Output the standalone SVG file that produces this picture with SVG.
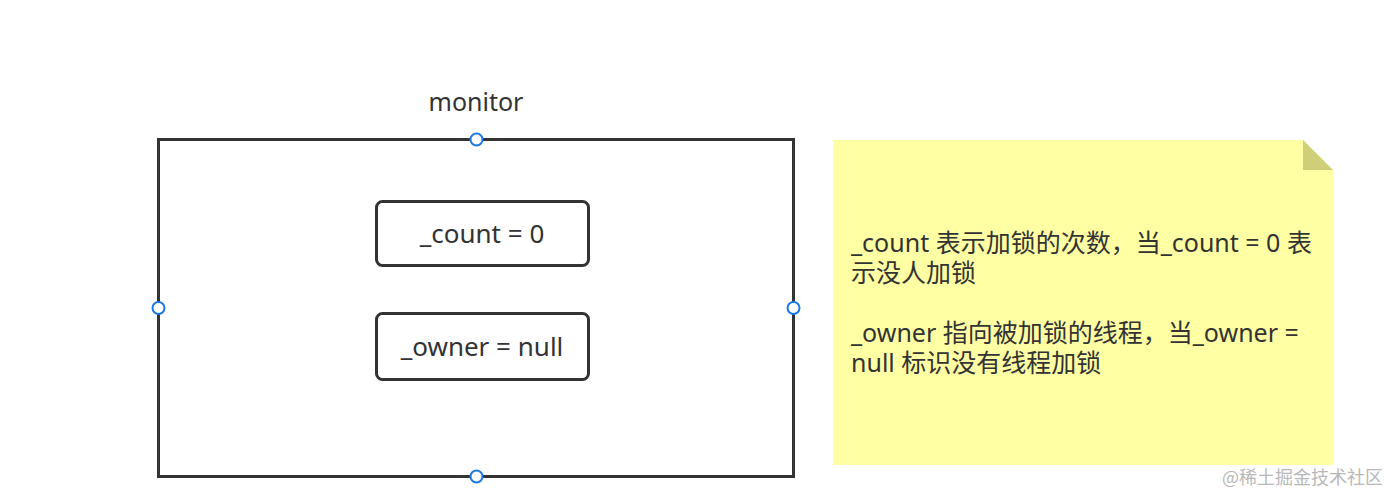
<svg xmlns="http://www.w3.org/2000/svg" width="1389" height="493" viewBox="0 0 1389 493">
<style>
.t{font-family:"Noto Sans","Noto Sans CJK SC",sans-serif;fill:#333;font-size:25px}
.box{fill:#fff;stroke:#333;stroke-width:3}
.pt{fill:#fff;stroke:#1a7ae6;stroke-width:2}
.wm{font-family:"Noto Sans CJK SC",sans-serif;fill:#b8b8b8;font-size:18px}
</style>
<rect width="1389" height="493" fill="#fff"/>
<g id="monitor">
<text class="t" x="476" y="111" text-anchor="middle">monitor</text>
<rect class="box" x="158.5" y="139.5" width="635" height="337"/>
</g>
<g id="count">
<rect class="box" x="376.5" y="201.5" width="212" height="64" rx="6"/>
<text class="t" x="482" y="243" text-anchor="middle" style="font-size:26px">_count = 0</text>
</g>
<g id="owner">
<rect class="box" x="376.5" y="313.5" width="212" height="66" rx="6"/>
<text class="t" x="482" y="356" text-anchor="middle" style="font-size:26px">_owner = null</text>
</g>
<g id="connectors">
<circle class="pt" cx="476.5" cy="139.5" r="6"/>
<circle class="pt" cx="158.5" cy="308" r="6"/>
<circle class="pt" cx="793.5" cy="308" r="6"/>
<circle class="pt" cx="476.5" cy="476.5" r="6"/>
</g>
<g id="note">
<path d="M833 140 H1303 L1333 170 V465 H833 Z" fill="#ffffa3"/>
<path d="M1303 140 L1333 170 H1303 Z" fill="#cfcf7a"/>
<text class="t" x="851" y="252">_count 表示加锁的次数，当_count = 0 表</text>
<text class="t" x="851" y="282">示没人加锁</text>
<text class="t" x="851" y="342">_owner 指向被加锁的线程，当_owner =</text>
<text class="t" x="851" y="372">null 标识没有线程加锁</text>
</g>
<text class="wm" x="1222" y="484">@稀土掘金技术社区</text>
</svg>
